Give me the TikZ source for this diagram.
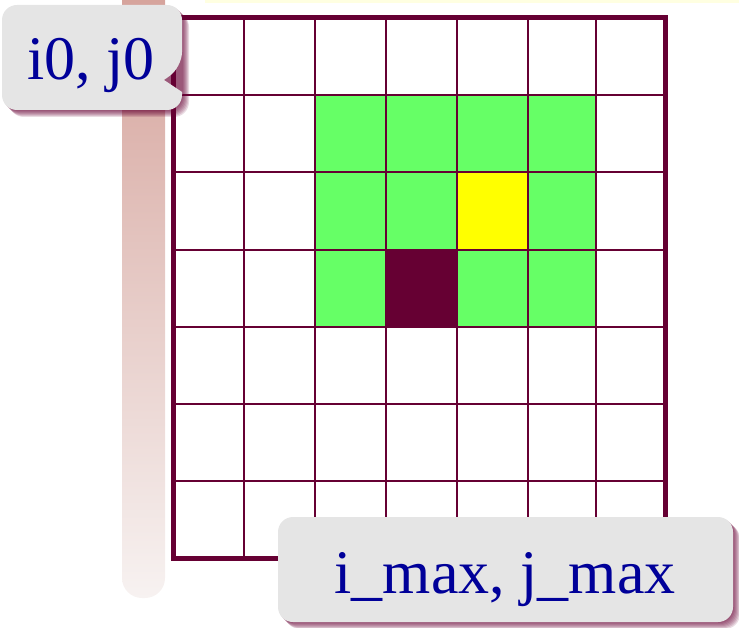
\documentclass[tikz,border=0pt]{standalone}
\usepackage{fontspec}
\setmainfont{Liberation Serif}
\usetikzlibrary{calc}
\definecolor{maroon}{RGB}{102,0,51}
\definecolor{cellgreen}{RGB}{102,255,102}
\definecolor{cellyellow}{RGB}{255,255,0}
\definecolor{callgray}{RGB}{229,229,229}
\definecolor{labblue}{RGB}{0,0,153}
\definecolor{bartop}{RGB}{212,160,152}
\definecolor{barbot}{RGB}{247,242,241}
\definecolor{paleyellow}{RGB}{255,255,225}
\tikzset{
  gridline/.style={draw=maroon, line width=2.2pt},
  frame/.style={draw=maroon, line width=5pt},
  callout/.style={fill=callgray},
  shadowlayer/.style={fill=maroon, fill opacity=0.14},
  labeltext/.style={text=labblue, font=\fontsize{62}{70}\selectfont, inner sep=0pt}
}
\begin{document}
\begin{tikzpicture}[x=1pt,y=-1pt]
\useasboundingbox (0,0) rectangle (739,628);
% faint strip at top
\fill[paleyellow] (205,0) rectangle (739,3);
% gradient bar
\shade[top color=bartop, bottom color=barbot]
  [rounded corners=20pt] (122,-30) -- (165,-30) -- (165,598) -- (122,598) -- cycle;
% cells
\fill[cellgreen] (315,95) rectangle (596,327);
\fill[cellyellow] (457,172) rectangle (528,250);
\fill[maroon] (386,250) rectangle (457,327);
% grid lines
\foreach \x in {244,315,386,457,528,596} \draw[gridline] (\x,18) -- (\x,558);
\foreach \y in {95,172,250,327,404,481} \draw[gridline] (173,\y) -- (665,\y);
\draw[frame] (173,18) rectangle (665,558);
% callout i0, j0
\foreach \d in {1,2,...,7}
  \fill[shadowlayer, rounded corners=15pt] ($(2,5)+(\d,\d)$) rectangle ($(182,110)+(\d,\d)$);
\fill[callout] [rounded corners=15pt] (2,5) -- (182,5) -- (182,67) [sharp corners] -- (164,80) -- (182,92) [rounded corners=15pt] -- (182,110) -- (2,110) -- cycle;
\node[labeltext, anchor=base] (start) at (91,80) {i0, j0};
% callout i_max, j_max
\foreach \d in {1,2,...,7}
  \fill[shadowlayer, rounded corners=15pt] ($(278,517)+(\d,\d)$) rectangle ($(733,622)+(\d,\d)$);
\fill[callout, rounded corners=15pt] (278,517) rectangle (733,622);
\node[labeltext, anchor=base] (end) at (505,593) {i\_max, j\_max};
\end{tikzpicture}
\end{document}
